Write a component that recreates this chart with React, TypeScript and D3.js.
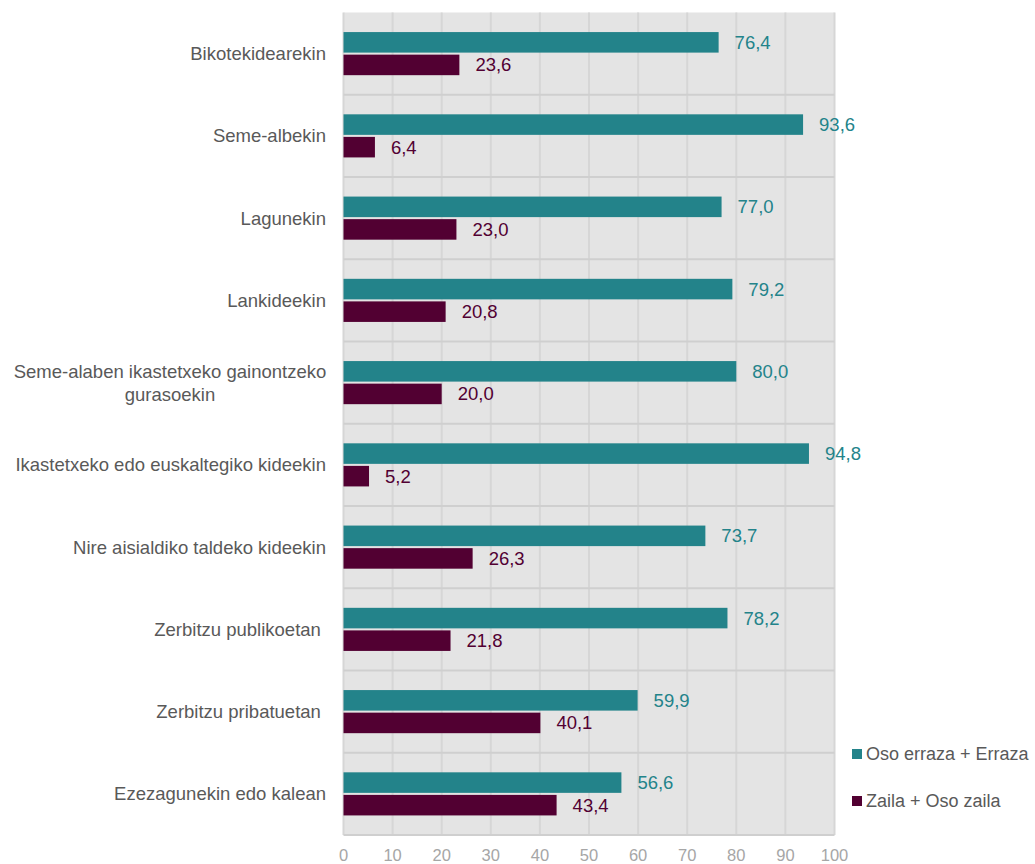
import React from "react";
import * as d3 from "d3";

const categories: string[][] = [
  ["Bikotekidearekin"],
  ["Seme-albekin"],
  ["Lagunekin"],
  ["Lankideekin"],
  ["Seme-alaben ikastetxeko gainontzeko", "gurasoekin"],
  ["Ikastetxeko edo euskaltegiko kideekin"],
  ["Nire aisialdiko taldeko kideekin"],
  ["Zerbitzu publikoetan "],
  ["Zerbitzu pribatuetan "],
  ["Ezezagunekin edo kalean"],
];
const easyValues = [76.4, 93.6, 77.0, 79.2, 80.0, 94.8, 73.7, 78.2, 59.9, 56.6];
const hardValues = [23.6, 6.4, 23.0, 20.8, 20.0, 5.2, 26.3, 21.8, 40.1, 43.4];
const seriesNames = ["Oso erraza + Erraza", "Zaila + Oso zaila"];
const seriesColors = ["#23838a", "#520032"];
const xTicks = [0, 10, 20, 30, 40, 50, 60, 70, 80, 90, 100];

const W = 1035;
const H = 864;
const left = 343.5;
const right = 834.5;
const top = 12.5;
const bottom = 835;
const font = "'Liberation Sans', Arial, sans-serif";

export default function App() {
  const x = d3.scaleLinear().domain([0, 100]).range([left, right]);
  const keys = categories.map((_, i) => String(i));
  const y = d3.scaleBand<string>().domain(keys).range([top, bottom]).padding(0);
  const bw = y.bandwidth();
  const inner = d3
    .scaleBand<string>()
    .domain(["0", "1"])
    .range([bw * 0.238, bw * 0.762])
    .paddingInner(0.09);
  const fmt = (v: number) => v.toFixed(1).replace(".", ",");
  const series = [easyValues, hardValues];

  return (
    <svg
      width={W}
      height={H}
      style={{ position: "absolute", left: 0, top: 0, background: "#fff" }}
      fontFamily={font}
    >
      <rect x={left} y={top} width={right - left} height={bottom - top} fill="#e4e4e4" />
      {xTicks.map((t) => (
        <line key={"g" + t} x1={x(t)} x2={x(t)} y1={top} y2={bottom} stroke="#d6d6d6" strokeWidth={2} />
      ))}
      {keys.slice(1).map((k) => (
        <line key={"s" + k} x1={left} x2={right} y1={y(k)!} y2={y(k)!} stroke="#cfcfcf" strokeWidth={2} />
      ))}
      <line x1={left} x2={right} y1={bottom} y2={bottom} stroke="#cfcfcf" strokeWidth={2} />
      {keys.map((k, i) => (
        <g key={"c" + k}>
          {series.map((vals, s) => {
            const by = y(k)! + inner(String(s))!;
            const bh = inner.bandwidth();
            return (
              <g key={s}>
                <rect x={x(0)} y={by} width={x(vals[i]) - x(0)} height={bh} fill={seriesColors[s]} />
                <text
                  x={x(vals[i]) + 16}
                  y={by + bh / 2}
                  dy="0.35em"
                  fontSize={18.5}
                  fill={seriesColors[s]}
                >
                  {fmt(vals[i])}
                </text>
              </g>
            );
          })}
        </g>
      ))}
      {categories.map((lines, i) => {
        const cy = y(String(i))! + bw / 2;
        const lh = 23;
        if (lines.length === 1) {
          return (
            <text
              key={"l" + i}
              x={326}
              y={cy}
              dy="0.35em"
              textAnchor="end"
              fontSize={18.5}
              fill="#595959"
              style={{ whiteSpace: "pre" }}
            >
              {lines[0]}
            </text>
          );
        }
        return (
          <text key={"l" + i} x={170} textAnchor="middle" fontSize={18.5} fill="#595959">
            {lines.map((ln, j) => (
              <tspan key={j} x={170} y={cy + (j - (lines.length - 1) / 2) * lh} dy="0.35em">
                {ln}
              </tspan>
            ))}
          </text>
        );
      })}
      {xTicks.map((t) => (
        <text key={"t" + t} x={x(t)} y={855.5} dy="0.35em" textAnchor="middle" fontSize={16.5} fill="#a6a6a6">
          {t}
        </text>
      ))}
      {seriesNames.map((n, s) => (
        <g key={"lg" + s} transform={`translate(852, ${754 + s * 47})`}>
          <rect x={0} y={-5} width={10} height={10} fill={seriesColors[s]} />
          <text x={14} y={0} dy="0.35em" fontSize={18} fill="#595959">
            {n}
          </text>
        </g>
      ))}
    </svg>
  );
}
